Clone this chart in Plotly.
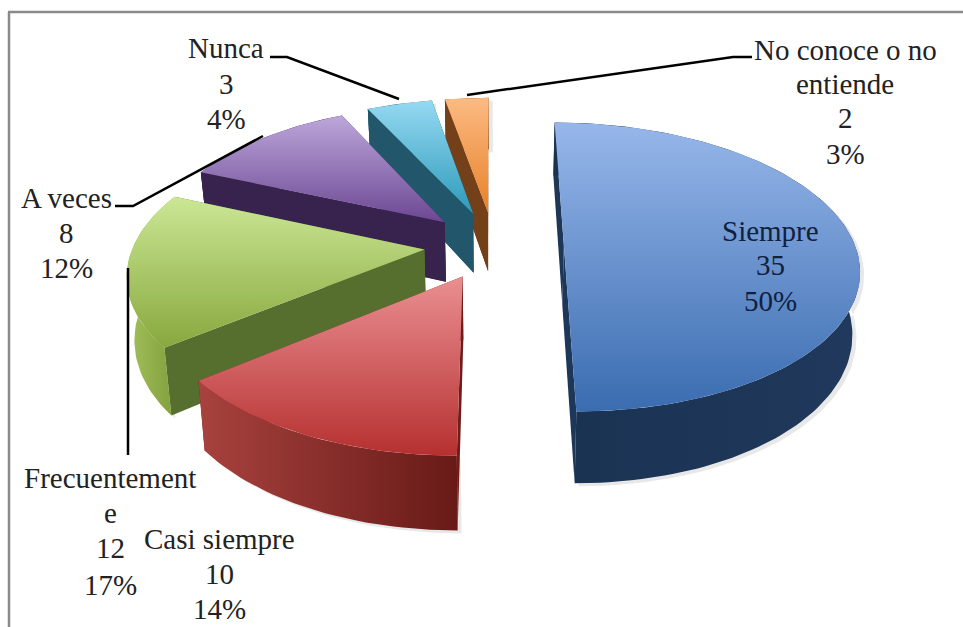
import numpy as np
import plotly.graph_objects as go

# ---- data ----
categories = ["Siempre", "Casi siempre", "Frecuentemente", "A veces", "Nunca", "No conoce o no entiende"]
values = [35, 10, 12, 8, 3, 2]
percent_labels = ["50%", "14%", "17%", "12%", "4%", "3%"]
label_lines = {
    "Siempre": ["Siempre"],
    "Casi siempre": ["Casi siempre"],
    "Frecuentemente": ["Frecuentement", "e"],
    "A veces": ["A veces"],
    "Nunca": ["Nunca"],
    "No conoce o no entiende": ["No conoce o no", "entiende"],
}

# ---- style / geometry ----
top_colors = [("#3a6cb0", "#97b7ea"), ("#b63030", "#ea8f91"), ("#88a83e", "#cbe795"),
              ("#6c4793", "#bca7da"), ("#2c9aba", "#95d9f2"), ("#e6812a", "#fcbb82")]
wall_colors = [("#1a3252", "#20395c"), ("#a8423e", "#681a17"), ("#a3c15a", "#7d9a3a"),
               ("#3d2955", "#35224b"), ("#2a6074", "#174d60"), ("#7e471d", "#6f3c14")]
face_colors = ["#1d3759", "#6f1d1a", "#566f2e", "#37234d", "#22566a", "#74401a"]

CX, CY, R, K, A, PULL, DEPTH, SHRINK = 494.0, 245.0, 291.0, 0.485, 0.152, 0.24, 61.0, 0.021
FONT = "Liberation Serif"
FS = 29


def project(X, Y, Z=0.0):
    X, Y = np.asarray(X, float), np.asarray(Y, float)
    w = 1 + A * Y
    s = 1 - SHRINK * Z
    return CX + R * X / w * s, CY - (K * R * Y - DEPTH * Z) / w


def poly(fig, xs, ys, colors, kind):
    fig.add_trace(go.Scatter(
        x=list(xs), y=list(ys), mode="lines", fill="toself",
        line=dict(width=0), hoverinfo="skip", showlegend=False,
        fillgradient=dict(type=kind, colorscale=[[0, colors[0]], [1, colors[1]]]),
    ))


def flat(fig, xs, ys, color):
    fig.add_trace(go.Scatter(
        x=list(xs), y=list(ys), mode="lines", fill="toself",
        line=dict(width=0), fillcolor=color, hoverinfo="skip", showlegend=False,
    ))


fig = go.Figure()
total = sum(values)
fractions = np.array(values) / total
ends = np.cumsum(fractions) * 2 * np.pi
starts = ends - fractions * 2 * np.pi

for i in [5, 4, 3, 2, 1, 0]:
    t0, t1 = starts[i], ends[i]
    mid = (t0 + t1) / 2
    px, py = PULL * np.sin(mid), PULL * np.cos(mid)
    th = np.linspace(t0, t1, max(8, int((t1 - t0) * 40)))
    ax, ay = px + np.sin(th), py + np.cos(th)
    bx, by = project(ax, ay, 1)
    tx, ty = project(ax, ay, 0)
    ox, oy = project(px, py, 0)
    ox2, oy2 = project(px, py, 1)
    ox, oy, ox2, oy2 = float(ox), float(oy), float(ox2), float(oy2)
    # soft shadow
    flat(fig, np.r_[tx, bx[::-1]] + 4, np.r_[ty, by[::-1]] + 3, "rgba(90,90,90,0.14)")
    # radial faces
    for end in (0, -1):
        flat(fig, [ox, tx[end], bx[end], ox2], [oy, ty[end], by[end], oy2], face_colors[i])
    # outer wall
    poly(fig, np.r_[tx, bx[::-1]], np.r_[ty, by[::-1]], wall_colors[i], "horizontal")
    # the start face of the far slices faces the viewer, so it goes above the hidden arc
    if i in (3, 4, 5):
        flat(fig, [ox, tx[0], bx[0], ox2], [oy, ty[0], by[0], oy2], face_colors[i])
    # top face
    poly(fig, np.r_[ox, tx], np.r_[oy, ty], top_colors[i], "vertical")

# leader lines
leaders = [
    ([270, 287, 399], [57, 57, 99]),
    ([752, 733, 467], [57, 57, 95]),
    ([115, 133, 263], [206, 206, 136]),
    ([128, 128], [268, 455]),
]
for lx, ly in leaders:
    fig.add_trace(go.Scatter(x=lx, y=ly, mode="lines", line=dict(color="black", width=2.5),
                             hoverinfo="skip", showlegend=False))

# labels
label_pos = {
    "Siempre": (770, [231, 265, 301]),
    "Casi siempre": (219, [539, 574, 609]),
    "Frecuentemente": (110, [478, 513, 548, 585]),
    "A veces": (66, [198, 233, 268]),
    "Nunca": (226, [48, 84, 119]),
    "No conoce o no entiende": (845, [50, 84, 118, 154]),
}
for cat, val, pct in zip(categories, values, percent_labels):
    lines = label_lines[cat] + [str(val), pct]
    x0, ys = label_pos[cat]
    col = "#10203f" if cat == "Siempre" else "#222222"
    for txt, y0 in zip(lines, ys):
        fig.add_annotation(x=x0, y=y0, text=txt, showarrow=False, xanchor="center", yanchor="middle",
                           font=dict(family=FONT, size=FS, color=col))

# picture frame
frame = "#8a8a8a"
fig.add_shape(type="line", x0=8, x1=963, y0=12, y1=12, line=dict(color=frame, width=2.5))
fig.add_shape(type="line", x0=9, x1=9, y0=12, y1=627, line=dict(color=frame, width=2.5))

fig.update_layout(
    width=963, height=627, margin=dict(l=0, r=0, t=0, b=0),
    paper_bgcolor="white", plot_bgcolor="white", showlegend=False,
    xaxis=dict(range=[0, 963], visible=False, fixedrange=True),
    yaxis=dict(range=[627, 0], visible=False, fixedrange=True),
)
fig.write_html("out.html", config={"displayModeBar": False},
               post_script="document.body.style.margin='0';document.body.style.overflow='hidden';")
